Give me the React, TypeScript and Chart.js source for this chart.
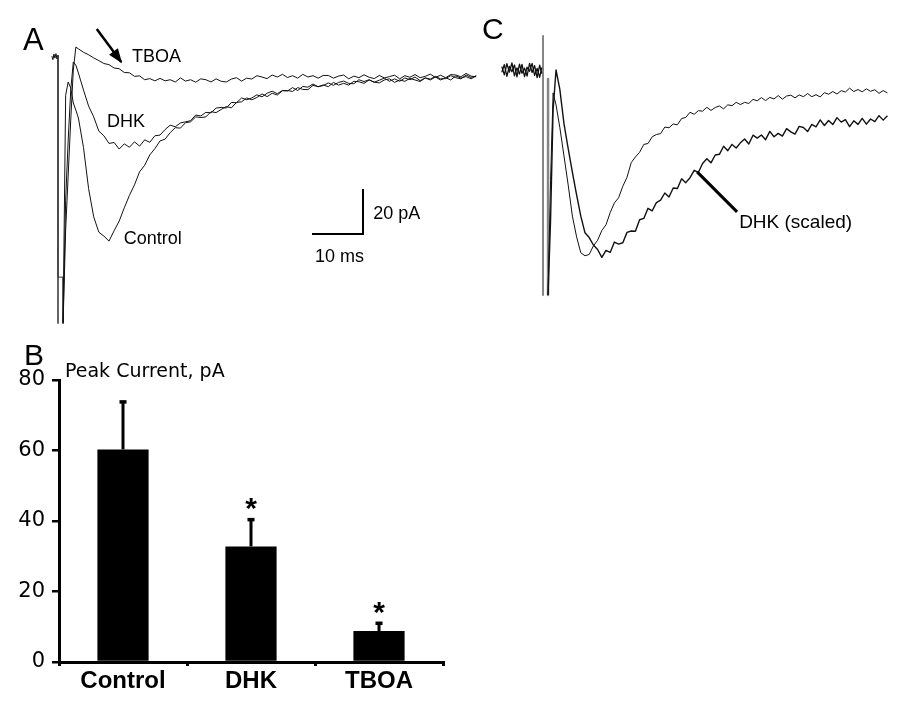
import React, { useEffect, useRef } from "react";
import { Chart, registerables } from "chart.js";
Chart.register(...registerables);

const ARIAL = '"Liberation Sans", Arial, Helvetica, sans-serif';
const SANS = '"DejaVu Sans", Verdana, sans-serif';

// ---------------- Panel A: currents (time in ms, current in pA) ----------------
const preTimeA = [-1.2, -1, -0.8, -0.6, -0.4, -0.2, 0];
const preA = [0.4, -1.2, 1.3, -0.5, 1.5, -0.9, 0.8];
const artifactTimeA = [0, 0, 0, 1, 1];
const artifactA = [0.8, -118.5, -97.8, -97.8, -118.5];

const timeA = [1, 1.5, 2, 2.5, 3, 3.5, 4, 5, 6, 7, 8, 9, 10, 11, 12, 13, 14, 15, 16, 17, 18, 19, 20, 21, 22, 23, 24, 25, 26, 27, 28, 29, 30, 31, 32, 33, 34, 35, 36, 37, 38, 39, 40, 41, 42, 43, 44, 45, 46, 47, 48, 49, 50, 51, 52, 53, 54, 55, 56, 57, 58, 59, 60, 61, 62, 63, 64, 65, 66, 67, 68, 69, 70, 71, 72, 73, 74, 75, 76, 77, 78, 79, 80, 81, 82];
const controlA = [-118, -17, -11.1, -13.8, -20.4, -23.6, -27.1, -40.2, -58.5, -71.0, -77.8, -79.6, -81.8, -77.2, -72.9, -67.0, -61.5, -56.8, -51.0, -48.1, -43.5, -40.7,
  -37.3, -36.5, -33.6, -31.4, -31.6, -29.2, -28.8, -26.6, -26.9, -26.6, -24.3, -24.7, -23.3, -22.0, -22.6, -20.2, -19.9, -18.2, -19.0, -18.0, -16.4, -17.6, -16.1, -16.9, -15.0, -14.9, -15.3, -13.6, -14.4, -14.5, -12.6, -13.2, -12.4, -13.2, -11.3, -12.5, -11.7, -12.5, -10.8, -11.0, -11.7, -10.2, -11.2, -11.5, -10.2, -9.7, -11.3, -10.2, -10.8, -9.5, -10.2, -10.9, -9.3, -10.2, -8.9, -10.2, -9.2, -10.2, -8.4, -9.4, -8.7, -9.7, -8.4];
const dhkA = [-118, -63.6, -36.9, -14.7, -2.2, -3.6, -7.1, -14.7, -21.8, -26.6, -32.9, -35.0, -38.4, -38.0, -40.9, -38.6, -40.1, -37.7, -39.6, -36.8, -37.9, -35.0,
  -34.7, -32.2, -30.3, -31.0, -29.3, -28.8, -28.3, -25.8, -26.2, -24.6, -24.8, -22.7, -22.4, -22.7, -20.2, -20.3, -18.2, -19.0, -18.2, -16.8, -17.7, -16.1, -15.2, -16.3, -14.9, -15.1, -13.6, -14.9, -13.1, -13.4, -12.0, -13.2, -12.7, -11.5, -12.6, -11.3, -10.7, -11.7, -11.9, -10.1, -10.9, -10.1, -11.2, -10.3, -9.4, -10.8, -9.7, -10.8, -9.3, -10.1, -8.9, -10.5, -9.3, -9.8, -8.6, -9.7, -9.6, -8.3, -9.2, -9.7, -8.0, -9.1, -8.4];
const tboaA = [-118, -76.9, -52.4, -28, -5.8, 4.4, 3.6, 2.1, 1.0, -0.4, -1.6, -2.9, -3.4, -4.9, -5.2, -6.9, -7.0, -8.6, -8.4, -10.1, -9.6, -10.6,
  -9.5, -10.6, -10.1, -11.1, -9.3, -10.7, -10.1, -11.2, -9.7, -10.1, -11.1, -9.7, -10.8, -11.1, -9.8, -9.2, -10.7, -9.4, -9.8, -8.3, -8.9, -9.6, -8.0, -8.9, -7.7, -9.1, -8.3, -9.4, -7.7, -8.9, -8.3, -9.4, -8.2, -8.2, -9.4, -8.5, -8.0, -9.7, -8.5, -9.2, -7.9, -9.0, -9.6, -8.2, -9.3, -8.7, -8.1, -9.7, -8.3, -9.0, -7.8, -9.2, -8.6, -7.6, -9.1, -8.1, -9.2, -7.8, -8.0, -8.8, -7.3, -8.5, -8.8];

const scaleBarTimeA = [49.8, 59.8, 59.8]; // 10 ms
const scaleBarA = [-78.7, -78.7, -58.7]; // 20 pA
const arrowTimeA = [7.6, 12.4];
const arrowA = [12.4, -2.2];

// ---------------- Panel B: peak current bar chart ----------------
const categories = ["Control", "DHK", "TBOA"];
const peakMeans = [60.3, 32.8, 8.8];
const peakErrors = [13.7, 7.8, 2.4];
const significance = ["", "*", "*"];
const yTicksB = [0, 20, 40, 60, 80];

// ---------------- Panel C: control vs DHK scaled ----------------
const preTimeC = [-9.8, -9.2, -8.6, -8, -7.4, -6.8, -6.2, -5.6, -5, -4.4, -3.8, -3.2, -2.6, -2, -1.4, -0.8, -0.3];
const preC1 = [1.5, -2.2, 2.8, -1.0, 3.1, -2.6, 0.9, -1.8, 2.5, -3.0, 1.2, -0.6, 2.9, -2.4, 0.7, -3.3, 1.0];
const preC2 = [-1.0, 2.4, -2.8, 1.6, -0.8, 2.2, -3.1, 2.6, -1.5, 0.8, -2.7, 2.9, -1.2, 1.9, -3.4, 2.1, -1.6];
const artLeftTimeC = [0, 0];
const artLeftC = [15.1, -100];
const artRightTimeC = [1.2, 1.2];
const artRightC = [-4, -100];

const timeC = [1.2, 1.8, 2.4, 3.1, 4, 5, 6, 7, 8, 9, 10, 11, 12, 13, 14, 15, 16, 17, 18, 19, 20, 21, 22, 23, 24, 25, 26, 27, 28, 29, 30, 31, 32, 33, 34, 35, 36, 37, 38, 39, 40, 41, 42, 43, 44, 45, 46, 47, 48, 49, 50, 51, 52, 53, 54, 55, 56, 57, 58, 59, 60, 61, 62, 63, 64, 65, 66, 67, 68, 69, 70, 71, 72, 73, 74, 75, 76, 77, 78, 79, 80, 81, 82];
const controlC = [-100, -49, -10.2, -15.5, -25.5, -38.3, -51.2, -65.0, -74.2, -81.3, -82.6, -82.0, -78.2,
  -75.7, -71.4, -68.8, -63.4, -59.1, -56.8, -51.7, -47.7, -41.2, -38.7, -36.6, -33.1, -32.7, -29.7, -28.7, -28.3, -25.4, -25.7, -24.0, -24.4, -21.6, -21.1, -18.8, -19.7, -18.1, -18.3, -16.6, -18.0, -16.7, -16.0, -17.3, -15.5, -15.9, -14.4, -15.4, -14.4, -14.9, -13.1, -13.7, -12.3, -13.6, -12.2, -12.9, -11.4, -13.0, -11.6, -11.2, -12.4, -11.1, -11.9, -10.5, -11.9, -11.0, -12.0, -10.1, -10.8, -9.6, -10.7, -9.2, -9.8, -8.1, -9.6, -8.7, -9.7, -8.4, -9.5, -8.8, -10.4, -9.2, -10.2];
const dhkScaledC = [-100, -66.7, -17.8, 0, -8.5, -24.0, -35.0, -45.5, -55.5, -65.0, -72.4, -74.5, -77.8,
  -79.8, -83.3, -80.2, -81.1, -76.5, -77.4, -76.8, -72.2, -71.6, -71.7, -66.6, -66.0, -61.5, -62.6, -59.0, -57.9, -54.7, -56.5, -52.5, -52.7, -48.4, -50.1, -47.9, -44.6, -45.5, -41.6, -39.5, -41.3, -37.8, -37.5, -33.9, -35.9, -33.1, -34.7, -32.4, -30.7, -32.9, -29.0, -30.3, -28.9, -31.0, -27.3, -29.7, -28.2, -29.4, -26.1, -27.5, -28.5, -25.1, -25.6, -27.4, -24.2, -25.3, -22.2, -24.7, -22.5, -24.3, -21.2, -23.2, -22.1, -25.2, -22.6, -24.2, -21.5, -24.1, -21.8, -23.0, -20.3, -22.3, -20.4];
const pointerTimeC = [36.7, 46.2];
const pointerC = [-45.3, -63.1];

// ---------------- helpers ----------------
const pts = (xs: number[], ys: number[]) => xs.map((x, i) => ({ x, y: ys[i] }));

type Label = { text: string; x: number; y: number; size: number; bold?: boolean; family?: string; align?: CanvasTextAlign; px?: boolean };

function textPlugin(id: string, labels: Label[]) {
  return {
    id,
    afterDatasetsDraw(chart: any) {
      const { ctx, scales } = chart;
      ctx.save();
      ctx.fillStyle = "#000";
      ctx.textBaseline = "alphabetic";
      for (const l of labels) {
        ctx.font = `${l.bold ? "bold " : ""}${l.size}px ${l.family || ARIAL}`;
        ctx.textAlign = l.align || "left";
        const x = l.px ? l.x : scales.x.getPixelForValue(l.x);
        const y = l.px ? l.y : scales.y.getPixelForValue(l.y);
        ctx.fillText(l.text, x, y);
      }
      ctx.restore();
    },
  };
}

const line = (data: any[], color: string, width: number, extra: any = {}) => ({
  data,
  showLine: true,
  borderColor: color,
  backgroundColor: color,
  borderWidth: width,
  pointRadius: 0,
  pointHoverRadius: 0,
  fill: false,
  tension: 0,
  borderJoinStyle: "round",
  ...extra,
});

const traceOptions = (pad: any, xr: number[], yr: number[]) => ({
  animation: false,
  responsive: false,
  maintainAspectRatio: false,
  events: [],
  layout: { padding: pad },
  plugins: { legend: { display: false }, tooltip: { enabled: false } },
  scales: {
    x: { type: "linear", display: false, min: xr[0], max: xr[1] },
    y: { type: "linear", display: false, min: yr[0], max: yr[1] },
  },
});

const arrowHeadPlugin = {
  id: "arrowHead",
  afterDatasetsDraw(chart: any) {
    const { ctx, scales } = chart;
    const n = arrowTimeA.length;
    const x1 = scales.x.getPixelForValue(arrowTimeA[n - 2]);
    const y1 = scales.y.getPixelForValue(arrowA[n - 2]);
    const x2 = scales.x.getPixelForValue(arrowTimeA[n - 1]);
    const y2 = scales.y.getPixelForValue(arrowA[n - 1]);
    const a = Math.atan2(y2 - y1, x2 - x1);
    const L = 13, W = 5.5;
    const c = Math.cos(a), s = Math.sin(a);
    ctx.save();
    ctx.fillStyle = "#000";
    ctx.beginPath();
    ctx.moveTo(x2 + c * 1.5, y2 + s * 1.5);
    ctx.lineTo(x2 - L * c + W * s, y2 - L * s - W * c);
    ctx.lineTo(x2 - L * c - W * s, y2 - L * s + W * c);
    ctx.closePath();
    ctx.fill();
    ctx.restore();
  },
};

const errorBarPlugin = {
  id: "errorBars",
  afterDatasetsDraw(chart: any) {
    const { ctx, scales } = chart;
    ctx.save();
    ctx.strokeStyle = "#000";
    ctx.fillStyle = "#000";
    peakMeans.forEach((m, i) => {
      const px = scales.x.getPixelForValue(i);
      const yb = scales.y.getPixelForValue(m);
      const yt = scales.y.getPixelForValue(m + peakErrors[i]);
      ctx.lineWidth = 3;
      ctx.beginPath();
      ctx.moveTo(px, yb);
      ctx.lineTo(px, yt);
      ctx.stroke();
      ctx.fillRect(px - 3.5, yt - 1, 7, 3.5);
      if (significance[i]) {
        ctx.font = `bold 30px ${ARIAL}`;
        ctx.textAlign = "center";
        ctx.textBaseline = "alphabetic";
        ctx.fillText(significance[i], px, yt - 1);
      }
    });
    ctx.restore();
  },
};

function configA(): any {
  return {
    type: "scatter",
    data: {
      datasets: [
        line(pts(arrowTimeA, arrowA), "#000", 2.5, { borderJoinStyle: "miter" }),
        line(pts(scaleBarTimeA, scaleBarA), "#000", 2, { borderJoinStyle: "miter" }),
        line(pts(timeA, controlA), "#111", 1),
        line(pts(timeA, dhkA), "#111", 1),
        line(pts(timeA, tboaA), "#111", 1),
        line(pts(artifactTimeA, artifactA), "#333", 1),
        line(pts(preTimeA, preA), "#111", 1),
      ],
    },
    options: traceOptions({ left: 48, right: 2, top: 20, bottom: 0 }, [-1.96, 84.31], [-121.3, 16.44]),
    plugins: [
      arrowHeadPlugin,
      textPlugin("labelsA", [
        { text: "A", x: 23, y: 49.5, size: 31, px: true },
        { text: "TBOA", x: 14.5, y: -2.0, size: 18 },
        { text: "DHK", x: 9.6, y: -31.1, size: 18 },
        { text: "Control", x: 12.9, y: -83.3, size: 18 },
        { text: "20 pA", x: 61.8, y: -72, size: 18 },
        { text: "10 ms", x: 50.4, y: -91.1, size: 18 },
      ]),
    ],
  };
}

function configC(): any {
  return {
    type: "scatter",
    data: {
      datasets: [
        line(pts(pointerTimeC, pointerC), "#000", 3),
        line(pts(timeC, controlC), "#111", 1),
        line(pts(timeC, dhkScaledC), "#111", 1.4),
        line(pts(preTimeC, preC1), "#111", 1.3),
        line(pts(preTimeC, preC2), "#111", 1.3),
        line(pts(artLeftTimeC, artLeftC), "#858585", 2),
        line(pts(artRightTimeC, artRightC), "#858585", 2.5),
      ],
    },
    options: traceOptions({ left: 15, right: 10, top: 20, bottom: 0 }, [-11.43, 86.19], [-106.7, 22.2]),
    plugins: [
      textPlugin("labelsC", [
        { text: "C", x: 2, y: 38.5, size: 30, px: true },
        { text: "DHK (scaled)", x: 46.7, y: -70.4, size: 19 },
      ]),
    ],
  };
}

function configB(): any {
  return {
    type: "bar",
    data: {
      labels: categories,
      datasets: [
        {
          data: peakMeans,
          backgroundColor: "#000",
          borderWidth: 0,
          barPercentage: 0.4,
          categoryPercentage: 1,
        },
      ],
    },
    options: {
      animation: false,
      responsive: false,
      maintainAspectRatio: false,
      events: [],
      layout: { padding: { top: 50, right: 27, left: 0, bottom: 0 } },
      plugins: { legend: { display: false }, tooltip: { enabled: false } },
      scales: {
        x: {
          offset: true,
          grid: { display: true, offset: true, drawOnChartArea: false, drawTicks: true, tickLength: 4, lineWidth: 3, color: "#000" },
          border: { display: true, width: 3, color: "#000" },
          ticks: { font: { family: ARIAL, size: 24, weight: "bold" }, color: "#000", padding: 1 },
          afterFit: (s: any) => { s.height = 48; },
        },
        y: {
          min: 0,
          max: 80,
          afterBuildTicks: (s: any) => { s.ticks = yTicksB.map((v) => ({ value: v })); },
          grid: { display: true, drawOnChartArea: false, drawTicks: true, tickLength: 7, lineWidth: 2.5, color: "#000" },
          border: { display: true, width: 3, color: "#000" },
          ticks: { font: { family: SANS, size: 21 }, color: "#000", padding: 7 },
          afterFit: (s: any) => { s.width = 59; },
        },
      },
    },
    plugins: [
      errorBarPlugin,
      textPlugin("labelsB", [
        { text: "B", x: 24, y: 35, size: 30, px: true },
        { text: "Peak Current, pA", x: 65, y: 47, size: 19, family: SANS, px: true },
      ]),
    ],
  };
}

export default function App() {
  const refA = useRef<HTMLCanvasElement>(null);
  const refB = useRef<HTMLCanvasElement>(null);
  const refC = useRef<HTMLCanvasElement>(null);

  useEffect(() => {
    const charts = [
      new Chart(refA.current as HTMLCanvasElement, configA()),
      new Chart(refB.current as HTMLCanvasElement, configB()),
      new Chart(refC.current as HTMLCanvasElement, configC()),
    ];
    return () => charts.forEach((c) => c.destroy());
  }, []);

  return (
    <div style={{ position: "absolute", left: 0, top: 0, width: 915, height: 710, background: "#fff", overflow: "hidden" }}>
      <canvas ref={refA} width={490} height={330} style={{ position: "absolute", left: 0, top: 0, width: 490, height: 330 }} />
      <canvas ref={refB} width={470} height={380} style={{ position: "absolute", left: 0, top: 330, width: 470, height: 380 }} />
      <canvas ref={refC} width={435} height={310} style={{ position: "absolute", left: 480, top: 0, width: 435, height: 310 }} />
    </div>
  );
}
